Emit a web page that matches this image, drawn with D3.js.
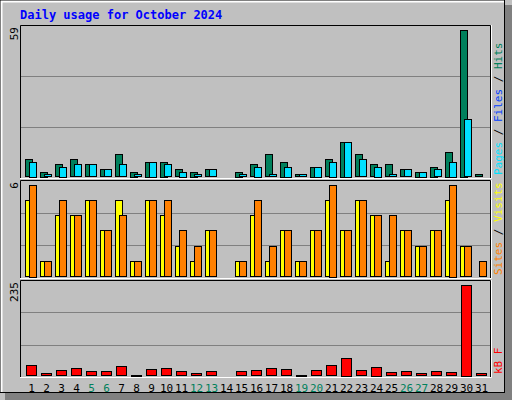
<!DOCTYPE html>
<meta charset="utf-8">
<style>
  body { margin: 0; }
  text { font-family: "DejaVu Sans Mono", monospace; }
</style>
<body>
<script src="https://d3js.org/d3.v7.min.js"></script>
<script>
  var days = d3.range(1, 32);
  var weekend = [5, 6, 12, 13, 19, 20, 26, 27];
  var hits  = [7,2,5,7,5,3,9,2,6,6,3,2,3,0,2,5,9,6,1,4,7,14,9,5,5,3,2,4,10,59,1];
  var files = [6,1,4,5,5,3,5,1,6,5,2,1,3,0,1,4,1,4,1,4,6,14,7,4,1,3,2,3,6,23,0];
  var visits = [5,1,4,4,5,3,5,1,5,4,2,1,3,0,1,4,1,3,1,3,5,3,5,4,1,3,2,3,5,2,0];
  var sites  = [6,1,5,4,5,3,4,1,5,5,3,2,3,0,1,5,2,3,1,3,6,3,5,4,4,3,2,3,6,2,1];
  var kbytes = [26,5,14,19,11,11,23,2,16,19,11,5,11,0,11,14,19,16,2,14,26,46,14,22,9,11,5,11,9,235,5];

  var W = 512, H = 400;
  var svg = d3.select("body").append("svg").attr("width", W).attr("height", H);

  // frame
  svg.append("rect").attr("width", W).attr("height", H).attr("fill", "#c0c0c0");
  svg.append("rect").attr("x", 505).attr("y", 5).attr("width", 7).attr("height", 395).attr("fill", "#808080");
  svg.append("rect").attr("x", 5).attr("y", 393).attr("width", 507).attr("height", 7).attr("fill", "#808080");
  svg.append("rect").attr("x", 0.5).attr("y", 0.5).attr("width", 504).attr("height", 392)
    .attr("fill", "none").attr("stroke", "#000");
  svg.append("path").attr("d", "M1.5,392V1.5H504").attr("fill", "none").attr("stroke", "#fff").attr("stroke-width", 2);

  svg.append("text").attr("x", 20).attr("y", 19)
    .attr("fill", "#0000ff").attr("font-weight", "bold").attr("font-size", 12)
    .text("Daily usage for October 2024");

  var x = d3.scaleLinear().domain([1, 31]).range([25, 475]);

  var panels = [
    {top: 25, bottom: 178, base: 176.5, max: 59, series: [[hits, "#00805c", 0, 8], [files, "#00e0ff", 4, 8]],
     label: [["Pages", "#00e0ff"], [" / ", "#000"], ["Files", "#0040ff"], [" / ", "#000"], ["Hits", "#00805c"]]},
    {top: 180, bottom: 278, base: 276, max: 6, series: [[visits, "#ffff00", 0, 8], [sites, "#ff8000", 4, 8]],
     label: [["Sites", "#ff8000"], [" / ", "#000"], ["Visits", "#ffff00"]]},
    {top: 280, bottom: 377, base: 375.3, max: 235, series: [[kbytes, "#ff0000", 1, 11]],
     label: [["kB F", "#ff0000"]]}
  ];

  panels.forEach(function (p) {
    var y = d3.scaleLinear().domain([0, p.max]).range([p.base, p.top + 4.5]);
    var h = p.bottom - p.top;
    [1, 2].forEach(function (k) {
      var gy = Math.round(p.top + h * k / 3) + 0.5;
      svg.append("line").attr("x1", 21).attr("x2", 490).attr("y1", gy).attr("y2", gy)
        .attr("stroke", "#808080");
    });
    svg.append("path").attr("d", "M20.5," + p.bottom + "V" + (p.top + 0.5) + "H490.5V" + p.bottom)
      .attr("fill", "none").attr("stroke", "#000");
    svg.append("path").attr("d", "M20," + (p.bottom + 0.5) + "H491.5V" + p.top)
      .attr("fill", "none").attr("stroke", "#fff");

    svg.append("text").attr("transform", "translate(18," + (p.top + 2) + ") rotate(-90)")
      .attr("text-anchor", "end").attr("font-size", 11).text(p.max);

    var t = svg.append("text").attr("transform", "translate(502," + (p.bottom - 3) + ") rotate(-90)")
      .attr("font-size", 11).attr("text-anchor", "start");
    p.label.forEach(function (s) {
      t.append("tspan").attr("fill", s[1]).text(s[0]);
    });

    svg.selectAll(null).data(s0(s = null)).enter();
    p.series.forEach(function (s) {
      svg.selectAll(null).data(s[0].map(function (v, i) { return {day: i + 1, v: v}; })
          .filter(function (d) { return d.v > 0; }))
        .enter().append("rect")
        .attr("x", function (d) { return x(d.day) + s[2] + 0.5; })
        .attr("y", function (d) { return Math.round(y(d.v)) + 0.5; })
        .attr("width", s[3] - 1)
        .attr("height", function (d) { return Math.max(1, Math.round(p.base - y(d.v))); })
        .attr("fill", s[1]).attr("stroke", "#000");
    });
  });
  function s0() { return []; }

  svg.selectAll(".day").data(days).enter().append("text")
    .attr("x", function (d) { return x(d) + 6.5; })
    .attr("y", 392).attr("text-anchor", "middle").attr("font-size", 11)
    .attr("fill", function (d) { return weekend.indexOf(d) >= 0 ? "#00805c" : "#000"; })
    .text(function (d) { return d; });
</script>
</body>
